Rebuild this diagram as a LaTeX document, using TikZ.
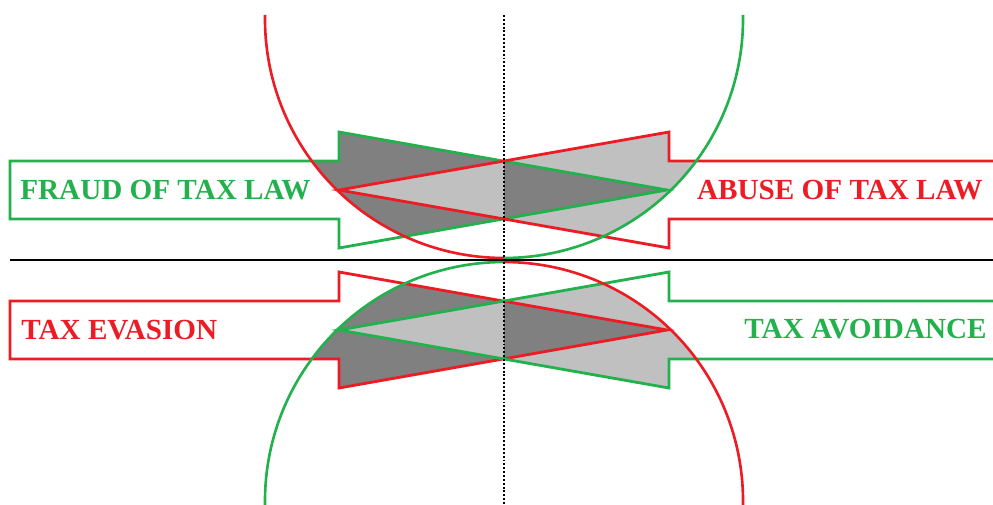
\documentclass[tikz,border=0pt]{standalone}
\usepackage{fontspec}
\setmainfont{Liberation Serif}
\usepackage{tikz}
\definecolor{cred}{RGB}{237,28,36}
\definecolor{cgreen}{RGB}{34,177,76}
\definecolor{cdark}{RGB}{128,128,128}
\definecolor{clight}{RGB}{192,192,192}
% arrow outlines, #1 = axis height
\newcommand{\rarr}[1]{(10,#1-29) -- (339,#1-29) -- (339,#1-58) -- (667,#1) -- (339,#1+58) -- (339,#1+29) -- (10,#1+29) -- cycle}
\newcommand{\larr}[1]{(1000,#1-29) -- (669,#1-29) -- (669,#1-58) -- (339,#1) -- (669,#1+58) -- (669,#1+29) -- (1000,#1+29) -- cycle}

\begin{document}
\begin{tikzpicture}[x=0.02cm,y=-0.02cm,
  gl/.style={draw=cgreen,line width=1.6pt},
  rl/.style={draw=cred,line width=1.6pt},
  dk/.style={fill=cdark},
  lt/.style={fill=clight},
  lbl/.style={font=\fontsize{16.6}{18}\selectfont\bfseries,inner sep=0},
]
\useasboundingbox (0,0) rectangle (993,504);
\coordinate (ct) at (504,19);
\coordinate (cb) at (504,501);
\coordinate (hl) at (10,260); \coordinate (hr) at (993,260);
\coordinate (vt) at (504,15); \coordinate (vb) at (504,504);

% Shading, top
\begin{scope}
  \clip (ct) circle[radius=239];
  \begin{scope}
    \clip (0,0) rectangle (504,260);
    \fill[dk] \rarr{190}; \fill[lt] \larr{190};
  \end{scope}
  \begin{scope}
    \clip (504,0) rectangle (993,260);
    \fill[lt] \larr{190}; \fill[dk] \rarr{190};
  \end{scope}
\end{scope}

% Shading, bottom
\begin{scope}
  \clip (cb) circle[radius=239];
  \begin{scope}
    \clip (0,260) rectangle (504,504);
    \fill[dk] \rarr{330}; \fill[lt] \larr{330};
  \end{scope}
  \begin{scope}
    \clip (504,260) rectangle (993,504);
    \fill[lt] \larr{330}; \fill[dk] \rarr{330};
  \end{scope}
\end{scope}

% Arrows
\draw[gl] \rarr{190}; \draw[rl] \larr{190};
\draw[rl] \rarr{330}; \draw[gl] \larr{330};

% Circles
\draw[rl,line width=1.5pt] (ct) ++(181:239) arc[start angle=181,end angle=90,radius=239];
\draw[gl,line width=1.5pt] (ct) ++(-1:239) arc[start angle=-1,end angle=90,radius=239];
\draw[gl,line width=1.5pt] (cb) ++(270:239) arc[start angle=270,end angle=179,radius=239];
\draw[rl,line width=1.5pt] (cb) ++(270:239) arc[start angle=270,end angle=361,radius=239];

% Axes
\draw[line width=1.7pt] (hl) -- (hr);
\draw[line width=1.6pt,dash pattern=on 1.1pt off 1.1pt] (vt) -- (vb);

% Labels
\node[lbl,text=cgreen,anchor=west] (fraud) at (20,190) {FRAUD OF TAX LAW};
\node[lbl,text=cred,anchor=east] (abuse) at (983,190) {ABUSE OF TAX LAW};
\node[lbl,text=cred,anchor=west] (evasion) at (21,330) {TAX EVASION};
\node[lbl,text=cgreen,anchor=east] (avoid) at (987,329) {TAX AVOIDANCE};
\end{tikzpicture}
\end{document}
